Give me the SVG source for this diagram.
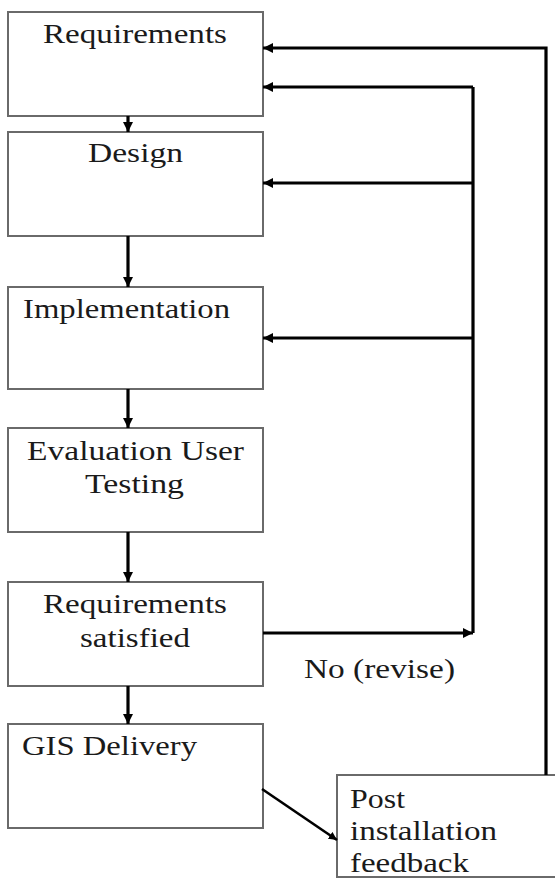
<svg xmlns="http://www.w3.org/2000/svg" width="555" height="880" viewBox="0 0 555 880">
<style>
.box{fill:#fff;stroke:#6a6a6a;stroke-width:2}
.t{font-size:27px;fill:#1a1a1a}
.c{fill:none;stroke:#000;stroke-width:3.2}
</style>
<defs>
<marker id="ah" viewBox="0 0 10 10" refX="10" refY="5" markerWidth="3.2" markerHeight="3.2" orient="auto" markerUnits="strokeWidth">
<path d="M0,0 L10,5 L0,10 z" fill="#000"/>
</marker>
</defs>
<rect width="555" height="880" fill="#fff"/>
<g font-family="Liberation Serif, serif">
<g id="n-requirements"><rect class="box" x="8" y="12" width="255" height="104"/><text class="t" x="43" y="43" textLength="184" lengthAdjust="spacingAndGlyphs">Requirements</text></g>
<g id="n-design"><rect class="box" x="8" y="132" width="255" height="104"/><text class="t" x="88" y="162" textLength="95" lengthAdjust="spacingAndGlyphs">Design</text></g>
<g id="n-implementation"><rect class="box" x="8" y="287" width="255" height="102"/><text class="t" x="23" y="318" textLength="207" lengthAdjust="spacingAndGlyphs">Implementation</text></g>
<g id="n-evaluation"><rect class="box" x="8" y="428" width="255" height="104"/><text class="t" x="27" y="460" textLength="217" lengthAdjust="spacingAndGlyphs">Evaluation User</text><text class="t" x="85" y="493" textLength="99" lengthAdjust="spacingAndGlyphs">Testing</text></g>
<g id="n-satisfied"><rect class="box" x="8" y="582" width="255" height="104"/><text class="t" x="43" y="613" textLength="184" lengthAdjust="spacingAndGlyphs">Requirements</text><text class="t" x="80" y="647" textLength="110" lengthAdjust="spacingAndGlyphs">satisfied</text></g>
<g id="n-delivery"><rect class="box" x="8" y="724" width="255" height="104"/><text class="t" x="22" y="755" textLength="175" lengthAdjust="spacingAndGlyphs">GIS Delivery</text></g>
<g id="n-post"><rect class="box" x="337" y="775" width="230" height="102"/><text class="t" x="350" y="808" textLength="55" lengthAdjust="spacingAndGlyphs">Post</text><text class="t" x="350" y="840" textLength="147" lengthAdjust="spacingAndGlyphs">installation</text><text class="t" x="350" y="872" textLength="119" lengthAdjust="spacingAndGlyphs">feedback</text></g>
<g id="connectors">
<path class="c" d="M128,116 V132" marker-end="url(#ah)"/>
<path class="c" d="M128,236 V287" marker-end="url(#ah)"/>
<path class="c" d="M128,389 V428" marker-end="url(#ah)"/>
<path class="c" d="M128,532 V582" marker-end="url(#ah)"/>
<path class="c" d="M128,686 V724" marker-end="url(#ah)"/>
<path class="c" d="M263,633 H473" marker-end="url(#ah)"/>
<path class="c" d="M473,633 V87"/>
<path class="c" d="M473,87 H263" marker-end="url(#ah)"/>
<path class="c" d="M473,183 H263" marker-end="url(#ah)"/>
<path class="c" d="M473,338 H263" marker-end="url(#ah)"/>
<path class="c" d="M546,775 V48 H263" marker-end="url(#ah)"/>
<path class="c" d="M262,789 L337,840" style="stroke-width:2.6" marker-end="url(#ah)"/>
<text class="t" x="304" y="678" textLength="151" lengthAdjust="spacingAndGlyphs">No (revise)</text>
</g>
</g>
</svg>
